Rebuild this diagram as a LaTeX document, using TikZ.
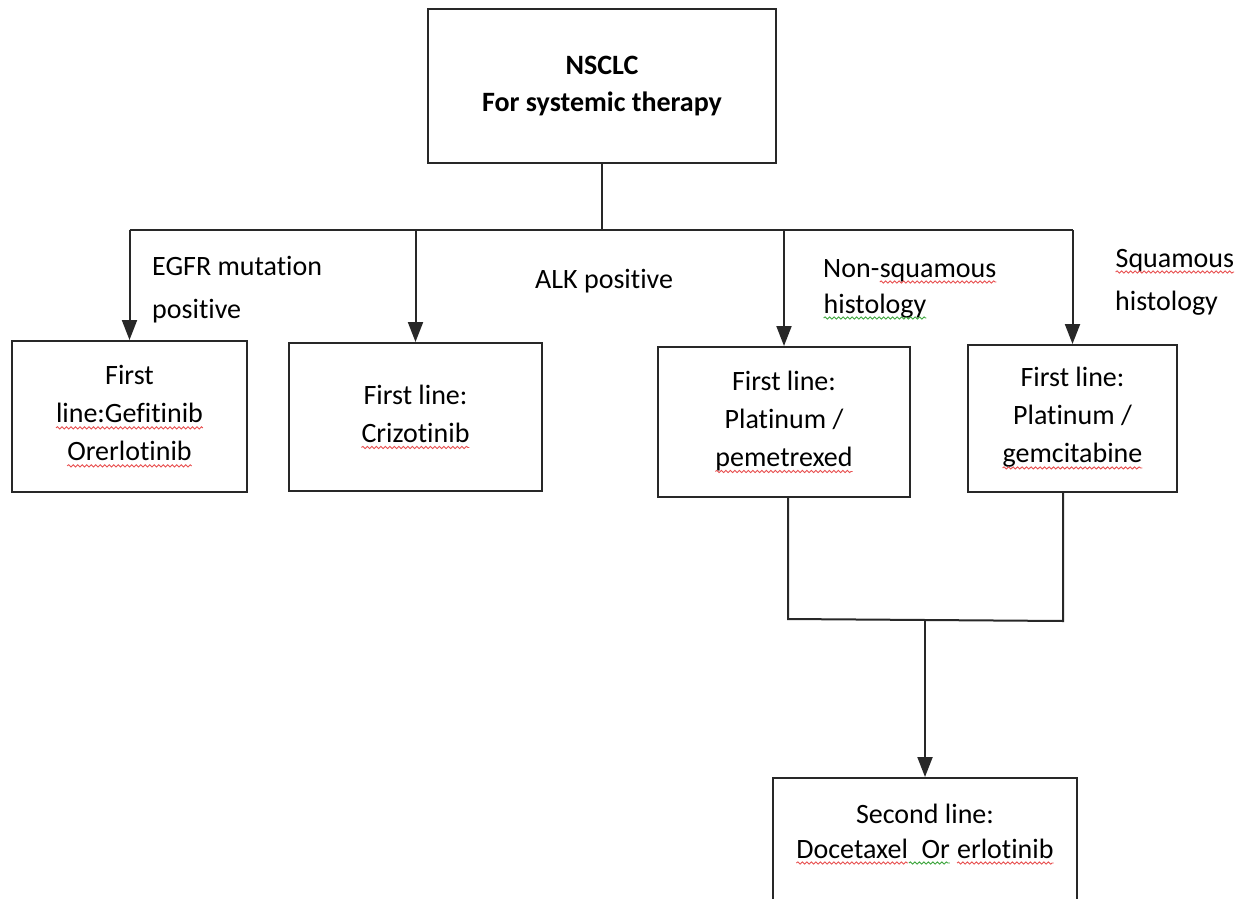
\documentclass[tikz,border=0pt]{standalone}
\usepackage{fontspec}
\setmainfont{Carlito}[Ligatures=NoCommon]
\usetikzlibrary{arrows.meta,decorations.pathmorphing}
\definecolor{sqred}{RGB}{232,80,80}
\definecolor{sqgreen}{RGB}{60,165,60}
\definecolor{ink}{RGB}{40,40,40}
\newcommand\wavy[2]{\tikz[baseline=(wv.base)]{\node[inner sep=0pt,outer sep=0pt,draw=none,minimum width=0pt,minimum height=0pt,anchor=base,line width=0.4pt](wv){#2};\draw[#1,line width=0.9pt,decorate,decoration={snake,amplitude=1.1pt,segment length=4.5pt}]([yshift=-5pt]wv.base west)--([yshift=-5pt]wv.base east);}}
\begin{document}
\begin{tikzpicture}[x=1pt,y=-1pt,
  txt/.style={font=\fontsize{28}{38}\selectfont, text=black},
  box/.style={txt, draw=ink, line width=2pt, align=center, inner sep=0pt},
  lbl/.style={txt, anchor=base west, inner sep=0pt},
  conn/.style={draw=ink, line width=2pt},
  arr/.style={conn, -{Triangle[length=20pt,width=15pt]}}]
\useasboundingbox (0,0) rectangle (1250,899);
\fill[white] (0,0) rectangle (1250,899);
\clip (0,0) rectangle (1250,899);
% boxes
\node[box, minimum width=348pt, minimum height=154pt, font=\fontsize{28}{37}\selectfont\bfseries] (top) at (602,86) {NSCLC\\For systemic therapy};
\node[box, minimum width=235pt, minimum height=151pt] (box1) at (129.5,416.5) {First\\\wavy{sqred}{line:Gefitinib}\\\wavy{sqred}{Orerlotinib}};
\node[box, minimum width=253pt, minimum height=148pt] (box2) at (415.5,417) {First line:\\\wavy{sqred}{Crizotinib}};
\node[box, minimum width=252pt, minimum height=150pt] (box3) at (784,422) {First line:\\Platinum /\\\wavy{sqred}{pemetrexed}};
\node[box, minimum width=209pt, minimum height=147pt] (box4) at (1072.5,418.5) {First line:\\Platinum /\\\wavy{sqred}{gemcitabine}};
\node[box, anchor=north] (box5) at (925,777) {\parbox[t][230pt][t]{304pt}{\centering\fontsize{28}{35}\selectfont\rule{0pt}{45pt}Second line:\\\wavy{sqred}{Docetaxel}\wavy{sqgreen}{\ \ Or}\ \wavy{sqred}{erlotinib}}};
% labels
\node[lbl] (egfr) at (152,275) {\parbox[t]{250pt}{\raggedright\fontsize{28}{43}\selectfont EGFR mutation\\positive}};
\node[lbl] (alk) at (535,288) {ALK positive};
\node[lbl] (nonsq) at (823,277) {\parbox[t]{250pt}{\raggedright\fontsize{28}{36}\selectfont Non-\wavy{sqred}{squamous}\\\wavy{sqgreen}{histology}}};
\node[lbl] (sq) at (1115,267) {\parbox[t]{200pt}{\raggedright\fontsize{28}{43}\selectfont \wavy{sqred}{Squamous}\\histology}};
% connectors
\coordinate (bus) at (604,230);
\draw[conn] (top.south) -- (top.south |- bus);
\draw[conn] (box1.north |- bus) -- (box4.north |- bus);
\draw[arr] (box1.north |- bus) -- (box1.north);
\draw[arr] (box2.north |- bus) -- (box2.north);
\draw[arr] (box3.north |- bus) -- (box3.north);
\draw[arr] (box4.north |- bus) -- (box4.north);
\coordinate (j3) at (788,619);
\coordinate (j4) at (1063,621);
\coordinate (jm) at (925,620);
\draw[conn] (j3 |- box3.south) -- (j3) -- (j4) -- (j4 |- box4.south);
\draw[arr] (jm) -- (box5.north);
\end{tikzpicture}
\end{document}
